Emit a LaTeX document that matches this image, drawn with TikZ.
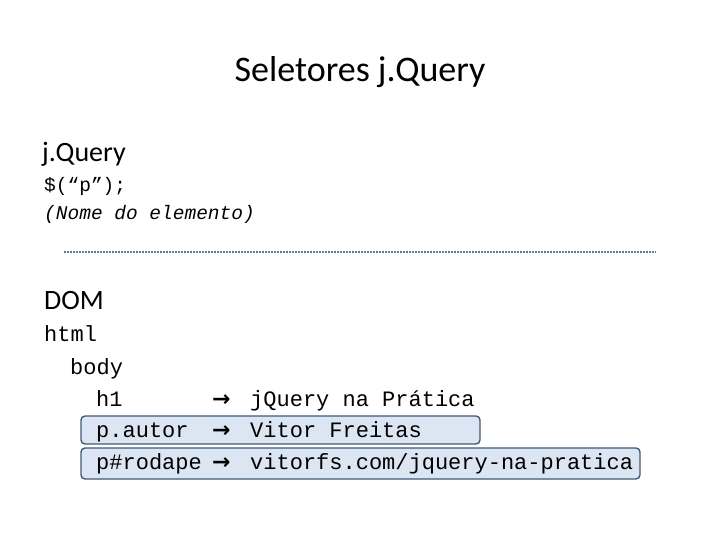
\documentclass[tikz,border=0pt]{standalone}
\usepackage{fontspec}
\setmainfont{Carlito}
\newfontfamily\monof{Liberation Mono}
\newfontfamily\arrf{DejaVu Sans}
\definecolor{boxfill}{HTML}{DCE6F2}
\definecolor{boxline}{HTML}{3F5A78}
\definecolor{dashc}{HTML}{5A7A9E}
\begin{document}
\begin{tikzpicture}[x=1pt,y=-1pt,
  title/.style={font=\fontsize{36}{40}\selectfont,anchor=base},
  head/.style={font=\fontsize{28}{32}\selectfont,anchor=base west,inner sep=0},
  code/.style={font=\monof\fontsize{22}{24}\selectfont,anchor=base west,inner sep=0},
  small/.style={font=\monof\fontsize{19.5}{22}\selectfont,anchor=base west,inner sep=0},
  hl/.style={draw=boxline,line width=1.4pt,fill=boxfill,rounded corners=4pt}]
\useasboundingbox (0,0) rectangle (720,540);
\draw[hl] (81,416) rectangle (480,444);
\draw[hl] (81,448) rectangle (640,479);
\node[title] (t) at (360,82) {Seletores j.Query};
\node[head] (jq) at (42,162) {j.Query};
\node[small] (s1) at (44,192) {\$(“p”);};
\node[small] (s2) at (44,219) {\itshape(Nome do elemento)};
\coordinate (d1) at (64,252); \coordinate (d2) at (656,252);
\draw[dashc,line width=1.2pt,dash pattern=on 2pt off 1pt] (d1) -- (d2);
\node[head] (dom) at (44,309) {DOM};
\node[code] (html) at (44,341) {html};
\node[code] (body) at (70,374) {body};
\node[code] (h1) at (96,406) {h1};
\node[code] (pa) at (96,437) {p.autor};
\node[code] (pr) at (96,469) {p\#rodape};
\foreach \y in {406,437,469}{\node[anchor=base west,inner sep=0,font=\arrf\bfseries\fontsize{22}{24}\selectfont] at (212,\y) {→};}
\node[code] (v1) at (250,406) {jQuery na Prática};
\node[code] (v2) at (250,437) {Vitor Freitas};
\node[code] (v3) at (250,469) {vitorfs.com/jquery-na-pratica};
\end{tikzpicture}
\end{document}
